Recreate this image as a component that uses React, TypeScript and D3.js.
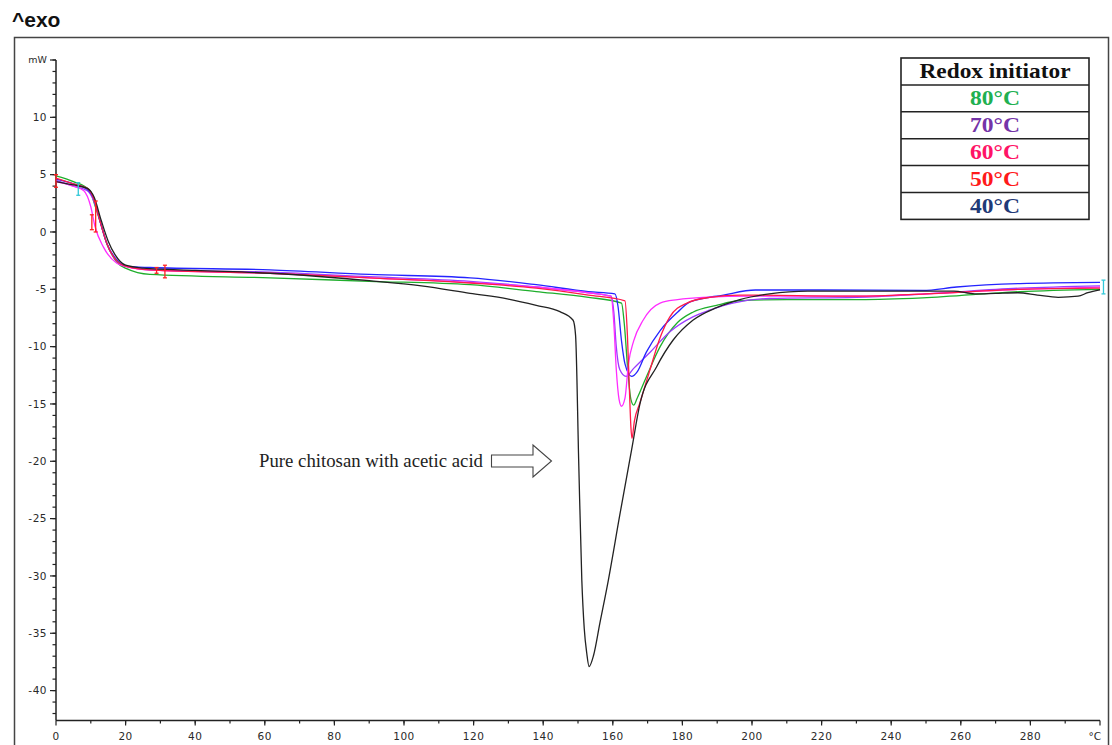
import React from 'react';
import * as d3 from 'd3';

type Pt = [number, number];

// DSC traces, [temperature °C, heat flow mW]
const pureChitosan: Pt[] = [
  [0, 4.4], [5, 4.1], [9, 3.8], [11, 3.0], [13, 1.0], [15, -0.8], [17, -2.0], [20, -2.9],
  [25, -3.15], [40, -3.35], [61.5, -3.6], [90, -4.25], [105, -4.7], [119, -5.35], [130, -5.85],
  [138, -6.4], [144.8, -6.95], [148.6, -7.7], [149.3, -9], [150.2, -20], [151.1, -30.4],
  [151.8, -34.6], [152.5, -36.7], [153.2, -37.9], [154.5, -36.9], [156.3, -34.1],
  [158.7, -30.4], [162, -24.7], [165.4, -19], [167.8, -15], [172.6, -11.75], [177.4, -9.4],
  [183, -7.7], [189.8, -6.6], [196.5, -5.9], [205, -5.4], [216, -5.15], [235, -5.15], [258, -5.15],
  [264, -5.4], [270, -5.35], [276.4, -5.3], [282, -5.5], [288, -5.7], [293.7, -5.6], [296.5, -5.3],
  [300, -5.05],
];

const blueTrace: Pt[] = [
  [0, 4.6], [5, 4.2], [9, 3.7], [11, 2.8], [12.6, 1.0], [14.6, -1.0], [17.4, -2.4], [20.3, -3.0],
  [27, -3.1], [61.5, -3.3], [90, -3.7], [119, -4.0], [138, -4.6], [153, -5.2], [160.6, -5.4],
  [161.5, -6.5], [162.5, -9.5], [163.5, -11.5], [165.4, -12.6], [167, -12.2], [169.6, -10.5],
  [173.6, -8.6], [178.6, -7.0], [182.2, -6.1], [191.8, -5.5], [201, -5.06], [220, -5.06],
  [249, -5.1], [258.8, -4.8], [277, -4.5], [300, -4.4],
];

const purpleTrace: Pt[] = [
  [0, 4.5], [5, 4.0], [9, 3.6], [11, 2.6], [12.6, 1.0], [14.6, -1.0], [17.4, -2.5], [20.3, -3.0],
  [27, -3.3], [61.5, -3.5], [90, -3.9], [119, -4.3], [138, -4.8], [153, -5.3], [159.5, -5.6],
  [160.3, -7], [161, -10], [162, -12], [163.8, -12.6], [166, -11.9], [171, -10.4], [176.4, -8.7],
  [183, -7.4], [188, -6.8], [194.5, -6.2], [205, -5.8], [230, -5.7], [250, -5.4], [277, -4.9],
  [300, -4.7],
];

const magentaTrace: Pt[] = [
  [0, 4.4], [5, 4.0], [8, 3.6], [10, 2.2], [11.2, 0.5], [13.6, -1.3], [17.4, -2.7], [21.3, -3.1],
  [27, -3.3], [61.5, -3.6], [90, -4.0], [119, -4.4], [138, -4.8], [153, -5.3], [159.5, -5.6],
  [160.3, -8], [161, -12], [161.8, -14.6], [162.5, -15.2], [163.5, -14.5], [164.5, -11.5],
  [166, -9.5], [168.7, -7.7], [173.6, -6.2], [178.6, -5.9], [186, -5.7], [200, -5.6], [230, -5.6],
  [250, -5.4], [277, -5.0], [300, -4.8],
];

const redTrace: Pt[] = [
  [0, 4.7], [5, 4.2], [9, 3.8], [11, 2.8], [12.6, 1.0], [14.6, -1.0], [17.4, -2.5], [20.3, -3.0],
  [27, -3.3], [61.5, -3.6], [90, -4.0], [119, -4.45], [138, -4.9], [153, -5.5], [163.5, -6.0],
  [164.2, -9], [164.8, -14], [165.2, -17], [165.5, -18], [166.2, -16.5], [167.8, -14.9],
  [170.7, -12.0], [173.6, -9.2], [176.4, -7.4], [181.3, -6.2], [187.9, -5.7], [196.5, -5.5],
  [230, -5.6], [250, -5.4], [277, -5.0], [300, -4.9],
];

const greenTrace: Pt[] = [
  [0, 4.9], [5, 4.4], [9.8, 3.6], [11, 2.5], [12.6, 1.0], [14.6, -1.0], [17.4, -2.6], [20.3, -3.2],
  [27, -3.7], [61.5, -4.0], [90, -4.3], [119, -4.6], [138, -5.2], [153, -5.7], [162.5, -6.2],
  [163.3, -8], [164.3, -12], [165.2, -14.6], [166, -15.1], [167, -14.5], [169.7, -12.6],
  [173.6, -10], [178.6, -7.9], [183, -7.0], [189.8, -6.4], [196.5, -6.0], [210, -5.9], [231, -5.9],
  [249, -5.75], [277, -5.2], [300, -5.0],
];

// evaluation-limit markers: [temperature, top mW, bottom mW]
const redMarkers: [number, number, number][] = [
  [0, 5.0, 3.9], [10.3, 1.5, 0.2], [11.4, 2.7, 0.0], [28.9, -3.1, -3.6], [31.3, -2.9, -4.0],
];
const cyanMarkers: [number, number, number][] = [
  [6.4, 4.3, 3.2], [301, -4.2, -5.4],
];

const legendTitle = 'Redox initiator';
const legendLabels = ['80°C', '70°C', '60°C', '50°C', '40°C'];
const legendColors = ['#20b050', '#7434a8', '#ff1466', '#ff1a1a', '#1f3a78'];

const yMajor = [10, 5, 0, -5, -10, -15, -20, -25, -30, -35, -40];
const xMajor = [0, 20, 40, 60, 80, 100, 120, 140, 160, 180, 200, 220, 240, 260, 280];

const W = 1112;
const H = 745;

export default function App() {
  const x = d3.scaleLinear().domain([0, 300]).range([56, 1100]);
  const y = d3.scaleLinear().domain([15, -42.6]).range([60, 720.4]);

  const line = d3.line<Pt>()
    .x(d => x(d[0]))
    .y(d => y(d[1]))
    .curve(d3.curveMonotoneX);

  const traces: { data: Pt[]; color: string }[] = [
    { data: greenTrace, color: '#1fae2c' },
    { data: purpleTrace, color: '#9a3cff' },
    { data: blueTrace, color: '#2424ff' },
    { data: magentaTrace, color: '#ff2cff' },
    { data: redTrace, color: '#ff1a48' },
    { data: pureChitosan, color: '#222222' },
  ];

  const yMinor = d3.range(-42, 16, 1);
  const xMinor = d3.range(10, 300, 10);

  const tickFont = { fontFamily: 'DejaVu Sans, Verdana, sans-serif', fontSize: 10.5, fill: '#2a2a2a' };

  const lx = 901, ly = 58, lw = 188, rowH = 26.9;

  return (
    <svg width={W} height={H} style={{ position: 'absolute', left: 0, top: 0, display: 'block', background: '#fff' }}>
      <text x={12} y={27} fontFamily="Liberation Sans, Arial, sans-serif" fontWeight="bold" fontSize={21} fill="#111">^exo</text>
      <rect x={14.5} y={37.5} width={1094} height={740} fill="none" stroke="#444" strokeWidth={1.5} />

      {/* y axis */}
      <line x1={56} x2={56} y1={y(15)} y2={y(-42.6)} stroke="#222" strokeWidth={1.5} />
      {yMinor.map(v => (
        <line key={'ym' + v} x1={52.5} x2={56} y1={y(v)} y2={y(v)} stroke="#222" strokeWidth={1.2} />
      ))}
      {yMajor.map(v => (
        <g key={'yt' + v}>
          <line x1={50} x2={56} y1={y(v)} y2={y(v)} stroke="#222" strokeWidth={1.2} />
          <text x={47} y={y(v)} dy="0.35em" textAnchor="end" letterSpacing={0.5} {...tickFont}>{v}</text>
        </g>
      ))}
      <line x1={50} x2={56} y1={y(15)} y2={y(15)} stroke="#222" strokeWidth={1.2} />
      <text x={47} y={y(15)} dy="0.35em" textAnchor="end" {...tickFont} fontSize={9.5}>mW</text>

      {/* x axis */}
      <line x1={56} x2={x(300)} y1={y(-42.6)} y2={y(-42.6)} stroke="#222" strokeWidth={1.5} />
      {xMinor.map(t => (
        <line key={'xm' + t} x1={x(t)} x2={x(t)} y1={y(-42.6)} y2={y(-42.6) + 3} stroke="#222" strokeWidth={1.2} />
      ))}
      {xMajor.map(t => (
        <g key={'xt' + t}>
          <line x1={x(t)} x2={x(t)} y1={y(-42.6)} y2={y(-42.6) + 5} stroke="#222" strokeWidth={1.2} />
          <text x={x(t)} y={740} textAnchor="middle" letterSpacing={0.5} {...tickFont}>{t}</text>
        </g>
      ))}
      <line x1={x(300)} x2={x(300)} y1={y(-42.6)} y2={y(-42.6) + 5} stroke="#222" strokeWidth={1.2} />
      <text x={1101} y={740} textAnchor="end" {...tickFont}>°C</text>

      {/* traces */}
      {traces.map((tr, i) => (
        <path key={i} d={line(tr.data) || ''} fill="none" stroke={tr.color} strokeWidth={1.3} strokeLinejoin="round" />
      ))}

      {/* markers */}
      {redMarkers.map((m, i) => (
        <g key={'rm' + i} stroke="#ff2020" strokeWidth={1.3}>
          <line x1={x(m[0])} x2={x(m[0])} y1={y(m[1])} y2={y(m[2])} />
          <line x1={x(m[0]) - 2} x2={x(m[0]) + 2} y1={y(m[1])} y2={y(m[1])} />
          <line x1={x(m[0]) - 2} x2={x(m[0]) + 2} y1={y(m[2])} y2={y(m[2])} />
        </g>
      ))}
      {cyanMarkers.map((m, i) => (
        <g key={'cm' + i} stroke="#30c8d8" strokeWidth={1.3}>
          <line x1={x(m[0])} x2={x(m[0])} y1={y(m[1])} y2={y(m[2])} />
          <line x1={x(m[0]) - 2} x2={x(m[0]) + 2} y1={y(m[1])} y2={y(m[1])} />
          <line x1={x(m[0]) - 2} x2={x(m[0]) + 2} y1={y(m[2])} y2={y(m[2])} />
        </g>
      ))}

      {/* annotation */}
      <text x={259} y={467} fontFamily="Liberation Serif, Times New Roman, serif" fontSize={18} fill="#222"
        textLength={224} lengthAdjust="spacingAndGlyphs">Pure chitosan with acetic acid</text>
      <path d="M491.5,455 L533,455 L533,445 L551.5,461 L533,477 L533,467 L491.5,467 Z"
        fill="#fff" stroke="#444" strokeWidth={1.1} />

      {/* legend table */}
      <g>
        <rect x={lx} y={ly} width={lw} height={rowH * 6} fill="#fff" stroke="#222" strokeWidth={1.6} />
        {d3.range(1, 6).map(i => (
          <line key={'lr' + i} x1={lx} x2={lx + lw} y1={ly + rowH * i} y2={ly + rowH * i} stroke="#222" strokeWidth={1.5} />
        ))}
        <text x={lx + lw / 2} y={ly + 19.5} textAnchor="middle" fontFamily="Liberation Serif, Times New Roman, serif"
          fontWeight="bold" fontSize={21} fill="#111" textLength={151} lengthAdjust="spacingAndGlyphs">{legendTitle}</text>
        {legendLabels.map((lab, i) => (
          <text key={lab} x={lx + lw / 2} y={ly + rowH * (i + 1) + 20} textAnchor="middle"
            fontFamily="Liberation Serif, Times New Roman, serif" fontWeight="bold" fontSize={21}
            fill={legendColors[i]} textLength={50} lengthAdjust="spacingAndGlyphs">{lab}</text>
        ))}
      </g>
    </svg>
  );
}
